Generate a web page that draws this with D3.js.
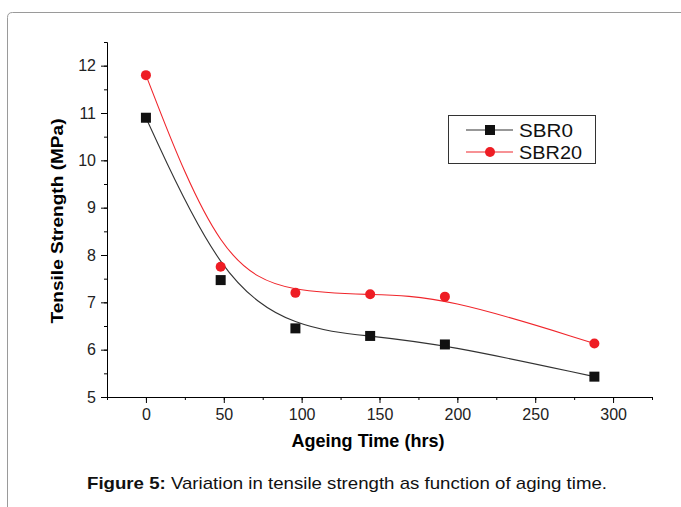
<!DOCTYPE html>
<html>
<head>
<meta charset="utf-8">
<script src="https://cdn.jsdelivr.net/npm/d3@7"></script>
<style>
  body { margin: 0; background: #fff; }
  svg { display: block; font-family: "Liberation Sans", Arial, sans-serif; }
</style>
</head>
<body>
<div id="chart"></div>
<script>
/*
DATA
*/
const hours = [0, 48, 96, 144, 192, 288];
const sbr0 = [10.9, 7.47, 6.45, 6.29, 6.11, 5.43];
const sbr20 = [11.8, 7.75, 7.2, 7.17, 7.12, 6.13];
const xTicks = [0, 50, 100, 150, 200, 250, 300];
const yTicks = [5, 6, 7, 8, 9, 10, 11, 12];

/*
SET UP
*/
const w = 681;
const h = 507;
const m = { top: 42, right: 29, bottom: 110, left: 107 };
const fontFam = "Liberation Sans, Arial, sans-serif";

const svg = d3
  .select("#chart")
  .append("svg")
  .attr("width", w)
  .attr("height", h);

// page frame (rounded top-left corner, runs off the right and bottom)
svg
  .append("path")
  .attr("d", `M7.5,${h} L7.5,17.5 Q7.5,12.5 12.5,12.5 L${w},12.5`)
  .attr("fill", "none")
  .attr("stroke", "#9a9a9a")
  .attr("stroke-width", 1);

const x = d3.scaleLinear().domain([-25, 325]).range([m.left, w - m.right]);
const y = d3.scaleLinear().domain([5, 12.5]).range([h - m.bottom, m.top]);

/*
AXES
*/
svg
  .append("g")
  .attr("transform", `translate(0,${y(5)})`)
  .call(d3.axisBottom(x).tickValues(d3.range(-25, 326, 25)).tickSize(3).tickFormat(""));
svg
  .append("g")
  .attr("transform", `translate(0,${y(5)})`)
  .call(d3.axisBottom(x).tickValues(xTicks).tickSize(6).tickPadding(6).tickFormat(d3.format("d")))
  .call((g) => g.select(".domain").remove());

svg
  .append("g")
  .attr("transform", `translate(${x(-25)},0)`)
  .call(d3.axisLeft(y).tickValues(d3.range(5, 12.51, 0.5)).tickSize(3).tickFormat(""));
svg
  .append("g")
  .attr("transform", `translate(${x(-25)},0)`)
  .call(d3.axisLeft(y).tickValues(yTicks).tickSize(6).tickPadding(5).tickFormat(d3.format("d")))
  .call((g) => g.select(".domain").remove());

svg.selectAll("g.tick text")
  .attr("fill", "#222")
  .style("font-family", fontFam)
  .style("font-size", "16px");
svg.selectAll(".tick line, .domain").attr("stroke", "#000");

// axis titles
svg
  .append("text")
  .attr("x", 368)
  .attr("y", 447)
  .attr("text-anchor", "middle")
  .attr("font-size", 18)
  .attr("font-weight", "bold")
  .attr("textLength", 153)
  .attr("lengthAdjust", "spacingAndGlyphs")
  .text("Ageing Time (hrs)");

svg
  .append("text")
  .attr("transform", `translate(63,221) rotate(-90)`)
  .attr("text-anchor", "middle")
  .attr("font-size", 17)
  .attr("font-weight", "bold")
  .attr("textLength", 205)
  .attr("lengthAdjust", "spacingAndGlyphs")
  .text("Tensile Strength (MPa)");

/*
SERIES
*/
const series = [
  { name: "SBR0", values: sbr0, color: "#111", lineColor: "#333", shape: "square", tl: 54 },
  { name: "SBR20", values: sbr20, color: "#ee1d24", lineColor: "#f0262c", shape: "circle", tl: 63 },
];

const line = d3
  .line()
  .x((d) => x(d[0]))
  .y((d) => y(d[1]))
  .curve(d3.curveBasis);

function drawMarker(g, s, cx, cy) {
  if (s.shape === "square") {
    g.append("rect")
      .attr("x", cx - 5)
      .attr("y", cy - 5)
      .attr("width", 10)
      .attr("height", 10)
      .attr("fill", s.color);
  } else {
    g.append("circle")
      .attr("cx", cx)
      .attr("cy", cy)
      .attr("r", 5)
      .attr("fill", s.color);
  }
}

series.forEach((s) => {
  const pts = hours.map((t, i) => [t, s.values[i]]);
  svg
    .append("path")
    .attr("d", line(pts))
    .attr("fill", "none")
    .attr("stroke", s.lineColor)
    .attr("stroke-width", 1.1);
  const g = svg.append("g");
  pts.forEach((p) => drawMarker(g, s, x(p[0]), y(p[1])));
});

/*
LEGEND
*/
const legend = svg.append("g").attr("transform", "translate(448,115)");
legend
  .append("rect")
  .attr("x", 0.5)
  .attr("y", 0.5)
  .attr("width", 147)
  .attr("height", 48)
  .attr("fill", "#fff")
  .attr("stroke", "#333")
  .attr("stroke-width", 1);

series.forEach((s, i) => {
  const ly = 15 + i * 22;
  legend
    .append("line")
    .attr("x1", 18)
    .attr("x2", 65)
    .attr("y1", ly)
    .attr("y2", ly)
    .attr("stroke", s.lineColor)
    .attr("stroke-width", 1.1);
  drawMarker(legend, s, 42, ly);
  legend
    .append("text")
    .attr("x", 71)
    .attr("y", ly + 6.5)
    .attr("font-size", 17.5)
    .attr("fill", "#111")
    .attr("textLength", s.tl)
    .attr("lengthAdjust", "spacingAndGlyphs")
    .text(s.name);
});

/*
CAPTION
*/
const cap = svg
  .append("text")
  .attr("x", 347)
  .attr("y", 489)
  .attr("text-anchor", "middle")
  .attr("font-size", 17)
  .attr("fill", "#111")
  .attr("textLength", 520)
  .attr("lengthAdjust", "spacingAndGlyphs");
cap.append("tspan").attr("font-weight", "bold").text("Figure 5:");
cap.append("tspan").text(" Variation in tensile strength as function of aging time.");
</script>
</body>
</html>
